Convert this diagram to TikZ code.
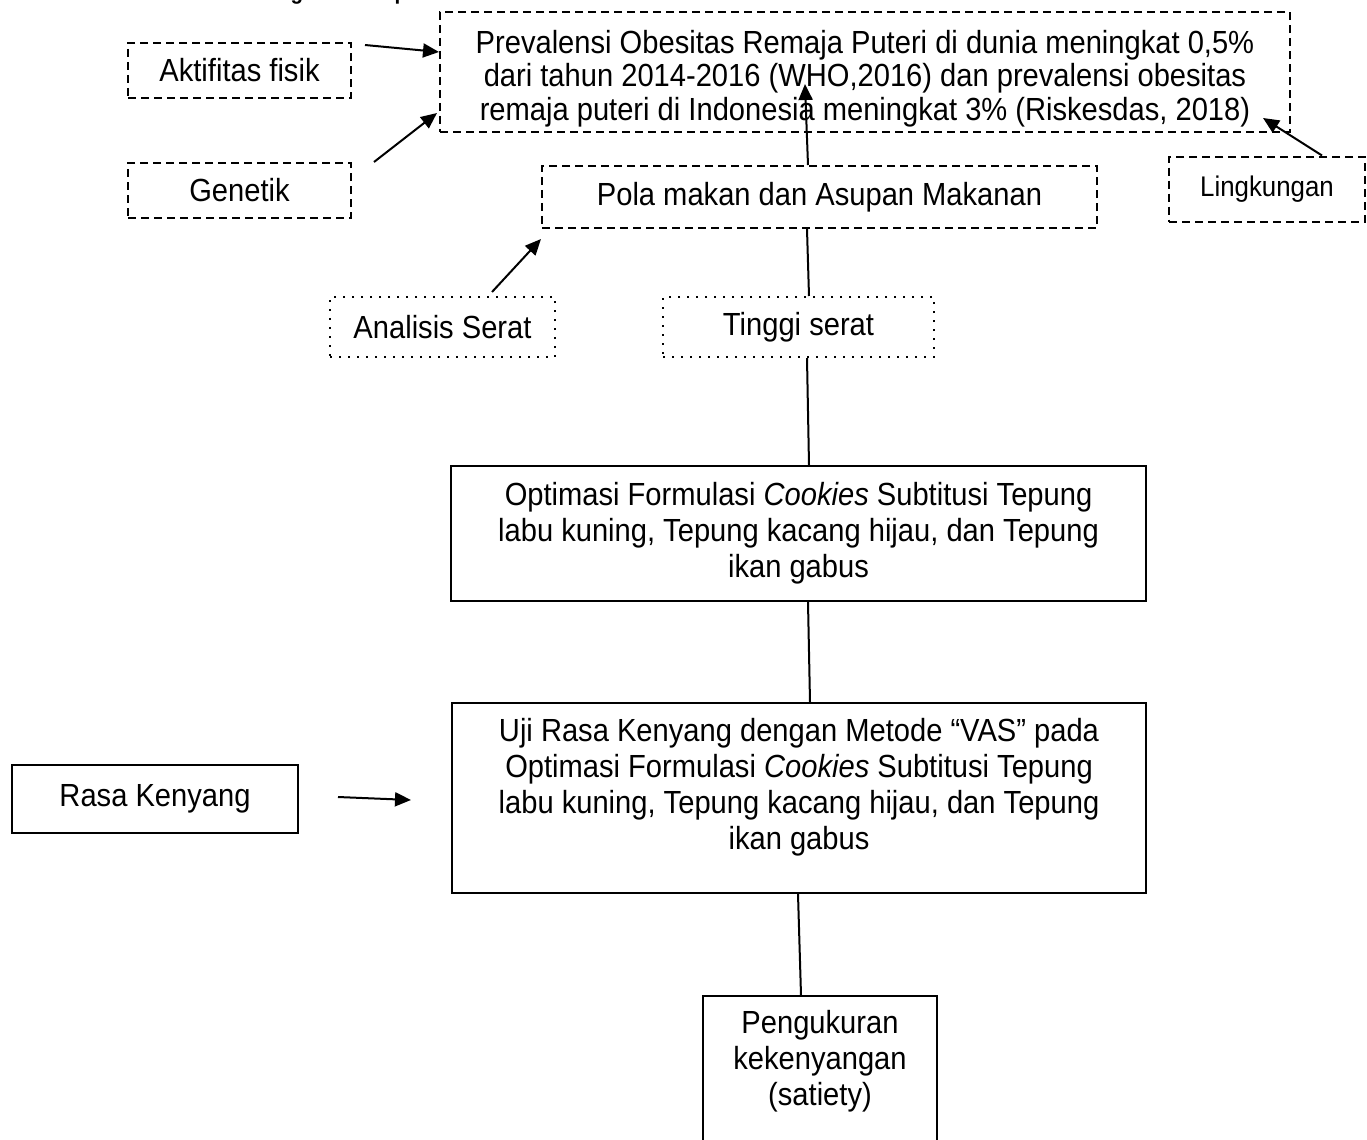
\documentclass[tikz,border=0pt]{standalone}
\usepackage{fontspec}
\setmainfont{Liberation Sans}[FakeStretch=0.91]
\usetikzlibrary{arrows.meta}
\newcommand{\isi}{\fontsize{16pt}{16.75pt}\selectfont}
\newcommand{\isilebar}{\fontsize{16pt}{18pt}\selectfont}
\newcommand{\isikecil}{\fontsize{14.2pt}{15pt}\selectfont}
\newcommand{\juduls}{\fontsize{11.3pt}{12pt}\selectfont\bfseries}

\begin{document}
\begin{tikzpicture}[x=0.5pt, y=-0.5pt,
  putus/.style={draw, line width=1pt, dash pattern=on 4pt off 2.5pt, inner sep=0pt, font=\isi, align=center},
  titik/.style={draw, line width=1pt, dash pattern=on 1pt off 3.5pt, inner sep=0pt, font=\isi, align=center},
  kotak/.style={draw, line width=1pt, inner sep=0pt, font=\isilebar, align=center},
  teks/.style={font=\isilebar, align=center, inner sep=0pt},
  panah/.style={line width=1pt, -{Triangle[length=8pt, width=7pt]}},
  garis/.style={line width=1pt}]
  \useasboundingbox (0,0) rectangle (1367,1140);
  \fill[white] (0,0) rectangle (1367,1140);

  % judul (terpotong di tepi atas)
  \node[anchor=base west, inner sep=0pt, font=\juduls] (judul) at (232,-0.5) {Kerangka Konsep};

  % masalah
  \node[putus, minimum width=425pt, minimum height=60pt] (prev) at (865,72) {};
  \node[teks, font=\isi] (prev-teks) at (865,78.5)
    {Prevalensi Obesitas Remaja Puteri di dunia meningkat 0,5\%\\
     dari tahun 2014-2016 (WHO,2016) dan prevalensi obesitas\\
     remaja puteri di Indonesia meningkat 3\% (Riskesdas, 2018)};

  % faktor
  \node[putus, minimum width=111.5pt, minimum height=27.5pt] (akt) at (239.5,70.5) {Aktifitas fisik};
  \node[putus, minimum width=111.5pt, minimum height=27.5pt] (gen) at (239.5,190.5) {Genetik};
  \node[putus, minimum width=98pt, minimum height=32.5pt, font=\isikecil] (ling) at (1267,189) {Lingkungan};
  \node[putus, minimum width=277.5pt, minimum height=31pt] (pola) at (819.5,197) {Pola makan dan Asupan Makanan};

  \node[titik, minimum width=112.5pt, minimum height=30pt] (anal) at (442.5,327) {Analisis Serat};
  \node[titik, minimum width=135.5pt, minimum height=30pt] (ting) at (798.5,327) {Tinggi serat};

  % produk dan uji
  \node[kotak, minimum width=347.5pt, minimum height=67.5pt] (opt) at (798.5,533.5)
    {Optimasi Formulasi \textit{Cookies} Subtitusi Tepung\\
     labu kuning, Tepung kacang hijau, dan Tepung\\
     ikan gabus};

  \node[kotak, minimum width=347pt, minimum height=95pt] (uji) at (799,798) {};
  \node[teks] (uji-teks) at (799,787)
    {Uji Rasa Kenyang dengan Metode “VAS” pada\\
     Optimasi Formulasi \textit{Cookies} Subtitusi Tepung\\
     labu kuning, Tepung kacang hijau, dan Tepung\\
     ikan gabus};

  \node[kotak, minimum width=143pt, minimum height=34pt] (rasa) at (155,799) {Rasa Kenyang};

  \node[kotak, minimum width=117pt, minimum height=100pt, anchor=north] (peng) at (820,995) {};
  \node[teks] (peng-teks) at (820,1061) {Pengukuran\\ kekenyangan\\ (satiety)};

  % panah
  \coordinate (akt-out) at (365,45);
  \draw[panah] (akt-out) -- ([yshift=10pt]prev.west);
  \coordinate (gen-out) at (374,162);
  \draw[panah] (gen-out) -- ([xshift=-1pt, yshift=10pt]prev.south west);
  \coordinate (ling-ujung) at (1263,118);
  \draw[panah] ([xshift=27.5pt]ling.north) -- (ling-ujung);
  \coordinate (pola-ujung) at (805,84);
  \draw[panah] ([xshift=-5.75pt]pola.north) -- (pola-ujung);
  \coordinate (anal-out) at (492,292);
  \draw[panah] (anal-out) -- ([yshift=-5pt]pola.south west);

  % garis
  \draw[garis] ([xshift=-6.25pt]pola.south) -- ([xshift=5.25pt]ting.north);
  \draw[garis] ([xshift=4.25pt]ting.south) -- ([xshift=5.25pt]opt.north);
  \draw[garis] ([xshift=4.75pt]opt.south) -- ([xshift=5.5pt]uji.north);
  \draw[panah] ([xshift=19.5pt, yshift=1pt]rasa.east) -- ([xshift=-20pt, yshift=-1pt]uji.west);
  \draw[garis] ([xshift=-0.5pt]uji.south) -- ([xshift=-9.5pt]peng.north);
\end{tikzpicture}
\end{document}
